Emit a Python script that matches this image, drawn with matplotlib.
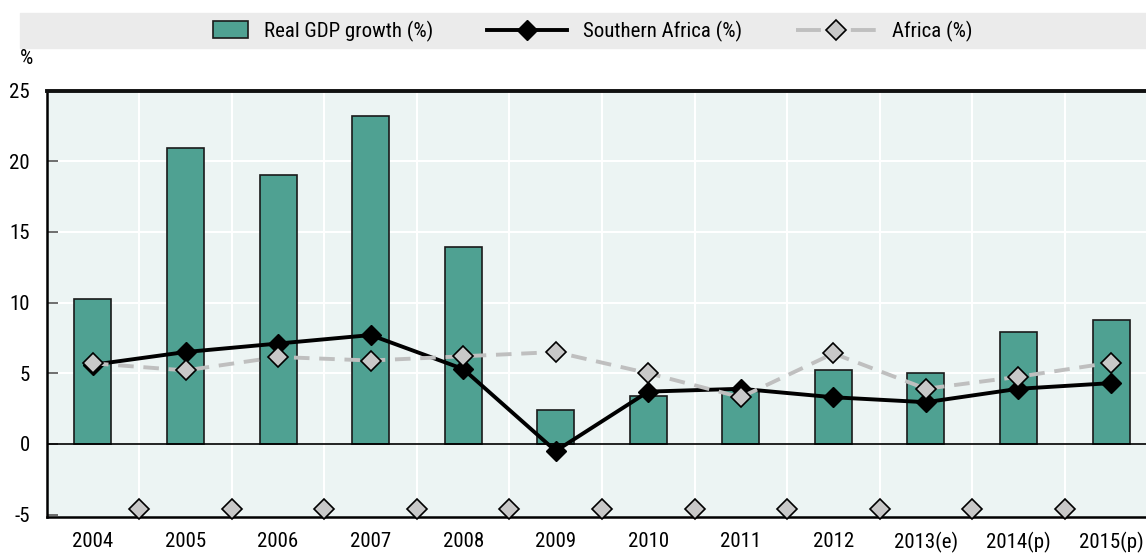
import matplotlib.pyplot as plt
import numpy as np
from matplotlib.patches import Rectangle
from matplotlib.lines import Line2D
from matplotlib.legend_handler import HandlerPatch

plt.rcParams['font.family'] = ['Liberation Sans Narrow', 'Roboto Condensed', 'DejaVu Sans']

# ===================== data =====================
years = ['2004', '2005', '2006', '2007', '2008', '2009', '2010', '2011',
         '2012', '2013(e)', '2014(p)', '2015(p)']
gdp_growth = [10.25, 20.9, 19.0, 23.2, 13.9, 2.4, 3.4, 3.8, 5.2, 5.0, 7.9, 8.8]
southern_africa = [5.6, 6.5, 7.1, 7.7, 5.3, -0.5, 3.7, 3.9, 3.3, 2.95, 3.9, 4.3]
africa = [5.7, 5.2, 6.15, 5.9, 6.2, 6.5, 5.0, 3.3, 6.4, 3.9, 4.75, 5.75]
gap_marker_level = -4.6

teal = '#4FA192'
bg = '#ECF4F3'
grey_line = '#BFBFBF'
grey_face = '#C8C8C8'

x = np.arange(len(years))
gaps = x[:-1] + 0.5

# ===================== figure =====================
fig = plt.figure(figsize=(11.46, 5.53), dpi=100)
ax = fig.add_axes([46.7 / 1146, 36 / 553, 1110.6 / 1146, 426.5 / 553])
ax.set_facecolor(bg)

# grid
for g in gaps:
    ax.axvline(g, color='white', lw=1.5, zorder=0)
for h in [5, 10, 15, 20]:
    ax.axhline(h, color='white', lw=1.5, zorder=0)

ax.bar(x, gdp_growth, width=0.4, color=teal, edgecolor='#1a1a1a', lw=1.2, zorder=2)
ax.axhline(0, color='black', lw=1.2, zorder=3)

ax.plot(x, southern_africa, color='black', lw=2.8, marker='D', ms=10,
        mfc='black', mec='black', zorder=4)
ax.plot(x, africa, color=grey_line, lw=2.8, ls=(0, (4, 2.5)), marker='D', ms=10,
        mfc=grey_face, mec='black', mew=1.2, zorder=5)
ax.plot(gaps, [gap_marker_level] * len(gaps), ls='none', marker='D', ms=10,
        mfc=grey_face, mec='black', mew=1.2, zorder=5, clip_on=False)

ax.set_xlim(-0.5, len(years) - 0.5)
ax.set_ylim(-5.17, 25)
ax.set_yticks([-5, 0, 5, 10, 15, 20, 25])
ax.set_yticklabels(['-5', '0', '5', '10', '15', '20', '25'])
ax.set_xticks(x)
ax.set_xticklabels(years)
ax.tick_params(axis='y', direction='in', length=8, width=1.2, color='#555555',
               labelsize=15, pad=12)
ax.tick_params(axis='x', length=0, labelsize=15, pad=11)

for side in ['left', 'bottom']:
    ax.spines[side].set_color('black')
    ax.spines[side].set_linewidth(1.8)
ax.spines['top'].set_color('#111111')
ax.spines['top'].set_linewidth(2.8)
ax.spines['right'].set_visible(False)

fig.text(0.0175, 0.895, '%', fontsize=15, ha='left', va='center')


# ===================== legend band =====================
def small_box(legend, orig_handle, xdescent, ydescent, width, height, fontsize):
    # narrow swatch sitting at the right end of the handle slot
    w, h = 25.2, 12.2
    return Rectangle((width - w - xdescent, height / 2 - h / 2 - ydescent), w, h)


fig.patches.append(Rectangle((20 / 1146, 1 - 47.5 / 553), 1 - 20 / 1146, 35 / 553,
                             transform=fig.transFigure, color='#EBEBEB', zorder=0))
handles = [
    Rectangle((0, 0), 1, 1, facecolor=teal, edgecolor='#1a1a1a', lw=1.2),
    Line2D([], [], color='black', lw=2.8, marker='D', ms=10, mfc='black'),
    Line2D([], [], color=grey_line, lw=2.8, ls=(0, (6.4, 7.7)), marker='D', ms=10,
           mfc=grey_face, mec='black', mew=1.2),
]
labels = ['Real GDP growth (%)', 'Southern Africa (%)', 'Africa (%)']
fig.legend(handles, labels, loc='center left', bbox_to_anchor=(0.1305, 0.9440), ncol=3,
           frameon=False, fontsize=15, handlelength=3.84, columnspacing=2.6,
           handletextpad=0.75, handler_map={Rectangle: HandlerPatch(patch_func=small_box)})

fig.savefig('out.png', dpi=100)
